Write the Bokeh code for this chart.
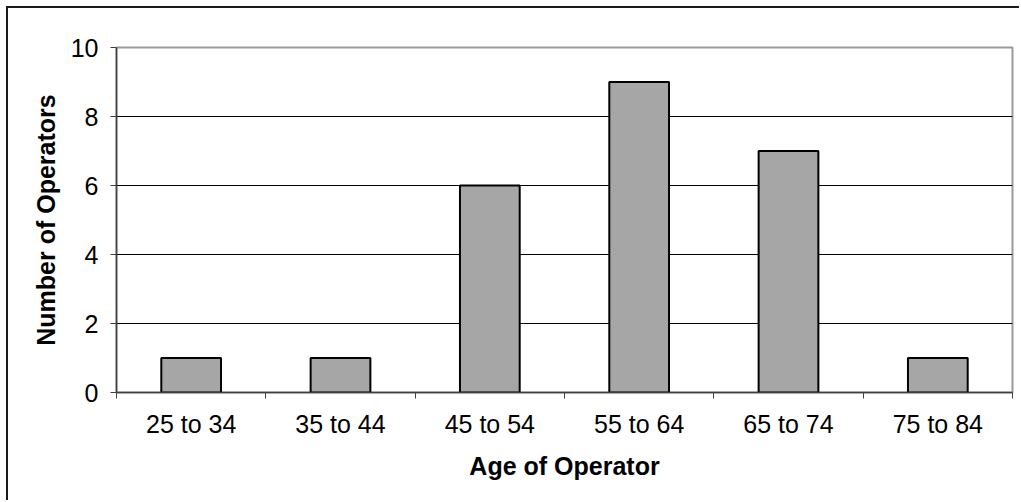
import numpy as np
from bokeh.plotting import figure
from bokeh.models import FixedTicker, Range1d, ColumnDataSource
from bokeh.embed import file_html
from bokeh.resources import INLINE

categories = ["25 to 34", "35 to 44", "45 to 54", "55 to 64", "65 to 74", "75 to 84"]
operators = [1, 1, 6, 9, 7, 1]
y_ticks = [0, 2, 4, 6, 8, 10]
x_title = "Age of Operator"
y_title = "Number of Operators"

x_centers = np.arange(len(categories)) + 0.5
source = ColumnDataSource(dict(x=x_centers, top=operators, cat=categories))

p = figure(width=1013, height=494, output_backend="svg", toolbar_location=None,
           x_range=Range1d(0, len(categories)), y_range=Range1d(y_ticks[0], y_ticks[-1]),
           min_border_left=108, min_border_right=9, min_border_top=39, min_border_bottom=110)
p.styles = {"margin-left": "6px", "margin-top": "6px",
            "border-left": "2px solid #1a1a1a", "border-top": "2px solid #1a1a1a"}

p.vbar(x="x", top="top", width=0.4, bottom=0, source=source,
       fill_color="#A6A6A6", line_color="black", line_width=2)

font = "Liberation Sans"

# x axis
p.xaxis.ticker = FixedTicker(ticks=list(x_centers), minor_ticks=list(range(len(categories) + 1)))
p.xaxis.major_label_overrides = {float(x): c for x, c in zip(x_centers, categories)}
p.xaxis.major_tick_out = 0
p.xaxis.major_tick_in = 0
p.xaxis.minor_tick_out = 6
p.xaxis.minor_tick_in = 0
p.xaxis.minor_tick_line_color = "#404040"
p.xaxis.minor_tick_line_width = 1
p.xaxis.axis_label = x_title
p.xaxis.major_label_standoff = 11
p.xaxis.axis_label_standoff = 11

# y axis
p.yaxis.ticker = FixedTicker(ticks=y_ticks, minor_ticks=[])
p.yaxis.major_tick_out = 6
p.yaxis.major_tick_in = 0
p.yaxis.major_tick_line_color = "#404040"
p.yaxis.axis_label = y_title
p.yaxis.major_label_standoff = 12
p.yaxis.axis_label_standoff = 8

for ax in (p.xaxis, p.yaxis):
    ax.axis_line_color = "#404040"
    ax.axis_line_width = 1.5
    ax.major_label_text_font = font
    ax.major_label_text_font_size = "25px"
    ax.major_label_text_color = "black"
    ax.axis_label_text_font = font
    ax.axis_label_text_font_size = "25px"
    ax.axis_label_text_font_style = "bold"
    ax.axis_label_text_color = "black"

p.xgrid.visible = False
p.ygrid.ticker = FixedTicker(ticks=y_ticks[1:-1])
p.ygrid.grid_line_color = "black"
p.ygrid.grid_line_width = 1

p.outline_line_color = "#9a9a9a"
p.outline_line_width = 2
p.background_fill_color = "white"
p.border_fill_color = "white"

open("out.html", "w").write(file_html(p, INLINE))
